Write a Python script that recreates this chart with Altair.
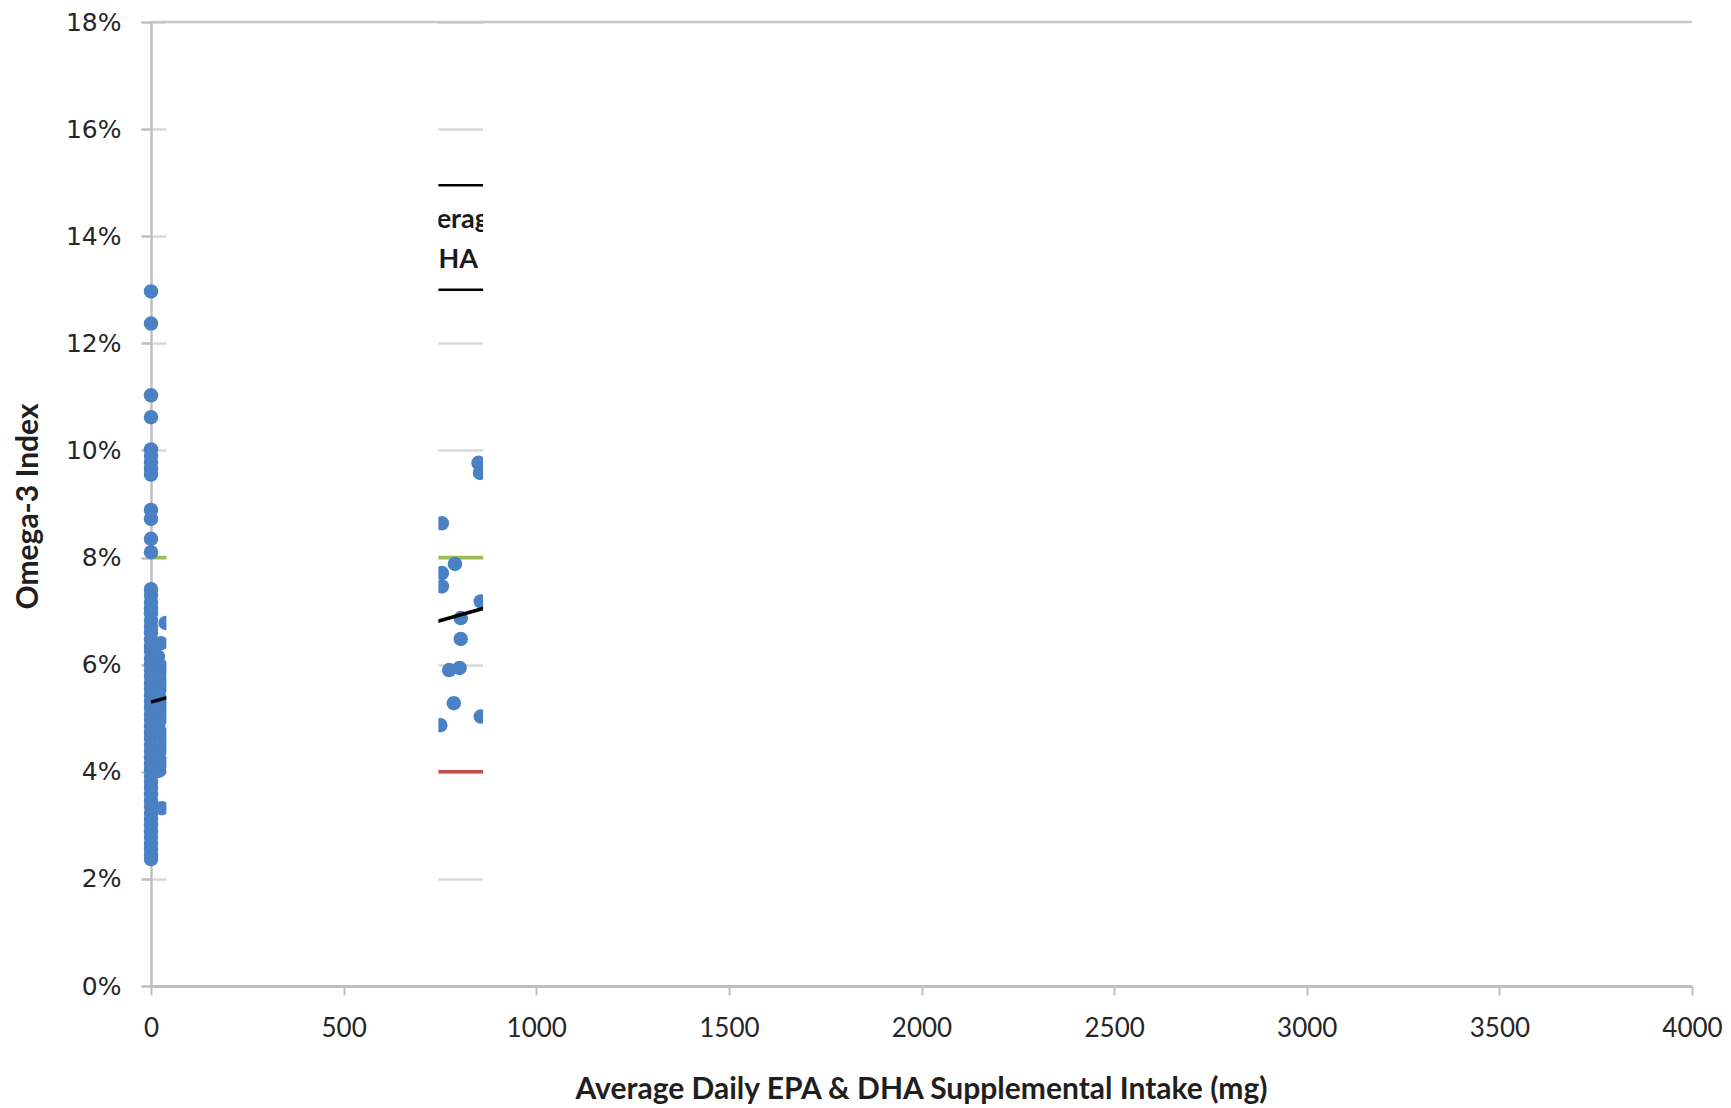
import altair as alt
import pandas as pd

# ---------------- data ----------------
# x-axis ticks (mg) and y-axis ticks (%)
x_ticks = [0, 500, 1000, 1500, 2000, 2500, 3000, 3500, 4000]
y_ticks = [0, 2, 4, 6, 8, 10, 12, 14, 16, 18]

# people with no supplemental intake (x = 0)
zero_y = [12.97, 12.37, 11.03, 10.62, 10.02, 9.90, 9.78, 9.66, 9.55, 8.89, 8.72,
          8.35, 8.10,
          7.41, 7.30, 7.17, 7.05, 6.96, 6.83, 6.71, 6.60, 6.47, 6.35, 6.26, 6.12,
          6.01, 5.90, 5.78, 5.66, 5.55, 5.43, 5.31, 5.20, 5.08, 4.97, 4.85, 4.73,
          4.62, 4.50, 4.39, 4.27, 4.15, 4.04, 3.92, 3.81, 3.70, 3.58, 3.46, 3.35,
          3.23, 3.11, 3.00, 2.89, 2.78, 2.66, 2.55, 2.45, 2.37]

# small intakes just right of the axis
low_x = [38, 26, 18, 30, 22, 34, 20, 28, 24, 32, 19, 27, 35, 23, 29, 21, 28]
low_y = [6.78, 6.40, 6.15, 5.95, 5.80, 5.62, 5.48, 5.33, 5.18, 5.02, 4.88, 4.72,
         4.55, 4.38, 4.18, 4.02, 3.32]

# intakes around 750-860 mg
mid_x = [850, 854, 755, 789, 755, 755, 856, 804, 804, 774, 801, 786, 751, 856]
mid_y = [9.77, 9.58, 8.64, 7.88, 7.71, 7.46, 7.18, 6.87, 6.48, 5.90, 5.94, 5.28,
         4.87, 5.03]

# linear trend line
trend_x = [0, 4000]
trend_y = [5.30, 13.42]

# reference levels
ref_levels = [8, 4]
ref_colors = ["#9bbb59", "#c0504d"]

# legend text (only a fragment survives in the picture)
legend_lines = ["Average", "EPA & DHA"]

# parts of the picture that are blanked out (mg)
blank_from = [40, 862]
blank_to = [746, 4030]

# ---------------- tables ----------------
pts = pd.DataFrame({
    "x": [0] * len(zero_y) + low_x + mid_x,
    "y": zero_y + low_y + mid_y,
})
trend = pd.DataFrame({"x": trend_x, "y": trend_y})
refs = pd.DataFrame({"y": ref_levels, "c": ref_colors})
box = pd.DataFrame({"x": [600], "x2": [1500], "y": [13.0], "y2": [14.95]})
legend_txt = pd.DataFrame({"x": [660, 849], "y": [14.15, 13.41],
                           "t": legend_lines})
mask = pd.DataFrame({"x": blank_from, "x2": blank_to, "y": [0, 0], "y2": [18, 18]})
top = pd.DataFrame({"y": [18]})

# ---------------- scales & axes ----------------
xs = alt.Scale(domain=[0, 4000], nice=False, zero=False)
ys = alt.Scale(domain=[0, 18], nice=False, zero=False)

x_axis = alt.Axis(
    values=x_ticks, format="d",
    title="Average Daily EPA & DHA Supplemental Intake (mg)",
    grid=False, domainColor="#bfbfbf", domainWidth=3, tickColor="#bfbfbf",
    tickWidth=2, tickSize=9, labelFont="Lato", labelFontSize=26,
    labelColor="#262626", labelPadding=20, labelFlush=False, labelOverlap=False,
    titleFont="Lato", titleFontSize=30, titleFontWeight="bold",
    titleColor="#1f1f1f", titleX=770, titleY=112, titleAlign="center",
    titleBaseline="alphabetic", zindex=1,
)
y_axis = alt.Axis(
    values=y_ticks, labelExpr="datum.value + '%'", grid=True,
    gridColor="#d9d9d9", gridWidth=2.5, domainColor="#bfbfbf", domainWidth=2.5,
    tickColor="#bfbfbf", tickWidth=2.5, tickSize=10, labelFont="DejaVu Sans",
    labelFontSize=25, labelColor="#262626", labelPadding=20,
    title="Omega-3 Index", titleFont="Lato", titleFontSize=30,
    titleFontWeight="bold", titleColor="#1f1f1f", titleAngle=270,
    titleX=-123, titleY=484, titleAlign="center", titleBaseline="middle",
    zindex=0,
)

X = lambda f="x": alt.X(f + ":Q", scale=xs, axis=x_axis)
Y = lambda f="y": alt.Y(f + ":Q", scale=ys, axis=y_axis)

ref_layer = alt.Chart(refs).mark_rule(strokeWidth=3.5).encode(
    y=Y(), color=alt.Color("c:N", scale=None))

box_layer = alt.Chart(box).mark_rect(fill="white", stroke="black",
                                     strokeWidth=2.5).encode(
    x=X(), x2="x2:Q", y=Y(), y2="y2:Q")

txt_left = alt.Chart(legend_txt.iloc[[0]]).mark_text(
    font="Lato", fontSize=27, fontWeight="bold", color="#1a1a1a",
    align="left", baseline="alphabetic").encode(x=X(), y=Y(), text="t:N")
txt_right = alt.Chart(legend_txt.iloc[[1]]).mark_text(
    font="Lato", fontSize=27, fontWeight="bold", color="#1a1a1a",
    align="right", baseline="alphabetic").encode(x=X(), y=Y(), text="t:N")

pt_layer = alt.Chart(pts).mark_circle(size=210, color="#4a80c4", opacity=1).encode(
    x=X(), y=Y())

trend_layer = alt.Chart(trend).mark_line(color="black", strokeWidth=3.5).encode(
    x=X(), y=Y())

mask_layer = alt.Chart(mask).mark_rect(fill="white").encode(
    x=X(), x2="x2:Q", y=Y(), y2="y2:Q")

top_layer = alt.Chart(top).mark_rule(color="#c8c8c8", strokeWidth=2.5).encode(y=Y())

chart = alt.layer(
    ref_layer, box_layer, txt_left, txt_right, pt_layer, trend_layer,
    mask_layer, top_layer,
).properties(
    width=1541, height=964,
    autosize=alt.AutoSizeParams(type="none"),
    padding={"left": 143, "top": 14, "right": 31, "bottom": 124},
).configure_view(stroke=None).configure(background="white")

chart.save("out.html", embed_options={"renderer": "svg", "actions": False})
